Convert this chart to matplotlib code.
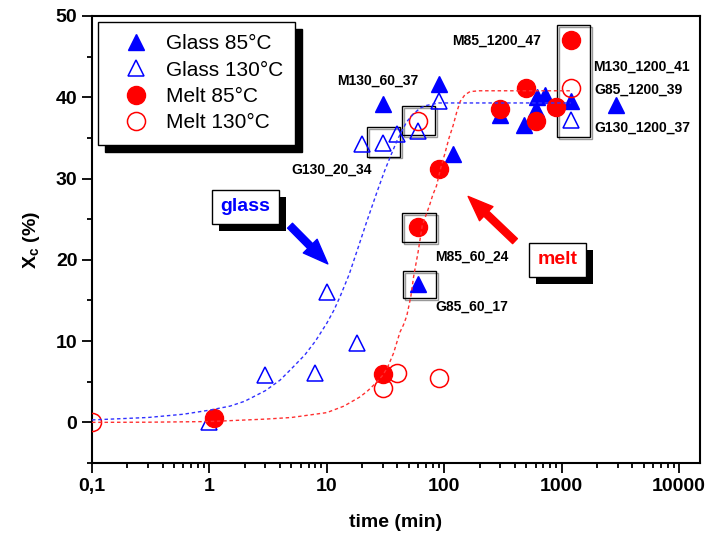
import matplotlib
matplotlib.use("Agg")
import matplotlib.pyplot as plt
from matplotlib.patches import Rectangle
from matplotlib import patheffects
from matplotlib.transforms import ScaledTranslation

plt.rcParams["font.family"] = ["Liberation Sans", "DejaVu Sans"]
plt.rcParams["mathtext.fontset"] = "custom"
plt.rcParams["mathtext.rm"] = "Liberation Sans"
plt.rcParams["mathtext.bf"] = "Liberation Sans:bold"
plt.rcParams["mathtext.it"] = "Liberation Sans:italic"

# DATA (time in min, Xc in %)
glass85_t = [30, 60, 90, 120, 300, 480, 600, 620, 720, 1200, 2900]
glass85_x = [39.2, 17.0, 41.6, 33.0, 37.8, 36.6, 38.6, 40.0, 40.3, 39.6, 39.1]

glass130_t = [1.0, 3, 8, 10, 18, 20, 30, 40, 60, 90, 1200]
glass130_x = [0.0, 5.8, 6.1, 16.1, 9.8, 34.2, 34.4, 35.5, 35.9, 39.5, 37.2]

melt85_t = [1.1, 30, 60, 90, 300, 500, 600, 900, 1200]
melt85_x = [0.5, 6.0, 24.0, 31.2, 38.6, 41.1, 37.1, 38.8, 47.0]

melt130_t = [0.1, 30, 40, 60, 90, 1200]
melt130_x = [0.0, 4.2, 6.1, 37.1, 5.4, 41.1]

# fit curves
fitg_t = [0.1, 0.3, 0.6, 1, 1.5, 2, 3, 4, 5, 6.5, 8, 10, 11.5, 13, 15.5, 18, 22, 27, 31,
          35, 40, 48, 55, 63, 71, 90, 120, 1200]
fitg_x = [0.3, 0.6, 1.0, 1.5, 2.0, 2.6, 3.9, 5.2, 6.6, 8.3, 10.0, 12.2, 13.8, 15.5, 18.2,
          21.0, 24.8, 28.5, 30.9, 32.8, 34.8, 37.0, 38.0, 38.7, 39.0, 39.3, 39.3, 39.3]

fitm_t = [0.1, 0.3, 1, 3, 5, 10, 14, 19, 22, 26, 30, 33, 37, 42, 45, 48, 52, 55, 60, 65,
          70, 75, 80, 86, 93, 101, 110, 119, 128, 137, 150, 166, 200, 250, 1200]
fitm_x = [0.0, 0.02, 0.1, 0.4, 0.6, 1.2, 2.0, 3.1, 3.8, 4.8, 5.8, 6.8, 8.5, 11.1, 12.0,
          13.1, 15.5, 18.0, 21.0, 24.2, 25.5, 26.7, 28.0, 29.1, 31.2, 33.0, 35.0, 36.5,
          38.2, 39.5, 40.3, 40.7, 40.8, 40.8, 40.8]

# sample labels
lab_text = ["M130_60_37", "G130_20_34", "M85_1200_47", "M130_1200_41",
            "G85_1200_39", "G130_1200_37", "M85_60_24", "G85_60_17"]
lab_t = [12.2, 4.95, 116, 1850, 1890, 1890, 84, 84]
lab_x = [42.0, 31.1, 47.0, 43.8, 40.9, 36.3, 20.4, 14.2]

# highlight boxes (t0, t1, x0, x1)
boxes = [(22.0, 42.1, 32.7, 36.3),
         (43.8, 83.6, 35.3, 38.9),
         (43.8, 85.0, 22.2, 25.7),
         (44.5, 85.0, 15.3, 18.6),
         (915, 1746, 35.1, 48.9)]

xticks = [0.1, 1, 10, 100, 1000, 10000]
xticklabels = ["0,1", "1", "10", "100", "1000", "10000"]

fig = plt.figure(figsize=(7.08, 5.36), dpi=100)
ax = fig.add_axes([92 / 708, 1 - 463 / 536, 608 / 708, 447 / 536])

blue = "#0000ff"
red = "#ff0000"

ax.plot(glass85_t, glass85_x, "^", ms=12, color=blue, mec=blue, ls="none", label="Glass 85°C", zorder=3)
ax.plot(glass130_t, glass130_x, "^", ms=12, mfc="none", mec=blue, mew=1.1, ls="none", label="Glass 130°C", zorder=3)
ax.plot(melt85_t, melt85_x, "o", ms=13, color=red, mec=red, ls="none", label="Melt 85°C", zorder=4)
ax.plot(melt130_t, melt130_x, "o", ms=13, mfc="none", mec=red, mew=1.1, ls="none", label="Melt 130°C", zorder=4)

# fits
ax.plot(fitg_t, fitg_x, color="#3030ff", lw=1.0, ls=(0, (2.5, 2)), zorder=5)
ax.plot(fitm_t, fitm_x, color="#ff3030", lw=1.0, ls=(0, (2.5, 2)), zorder=5)

shadow_off = ax.transData + ScaledTranslation(1.2 / 72, -1.2 / 72, fig.dpi_scale_trans)
for t0, t1, y0, y1 in boxes:
    ax.add_patch(Rectangle((t0, y0), t1 - t0, y1 - y0, fill=False, ec="#999999",
                           lw=1.0, transform=shadow_off, zorder=2))
    ax.add_patch(Rectangle((t0, y0), t1 - t0, y1 - y0, fill=False, ec="black",
                           lw=1.0, zorder=2))

for s, t, x in zip(lab_text, lab_t, lab_x):
    ax.text(t, x, s, fontsize=10, fontweight="bold", ha="left", va="center", zorder=6)

# glass / melt boxes with arrows
shadow = [patheffects.SimplePatchShadow(offset=(5, -5), shadow_rgbFace="black", alpha=1),
          patheffects.Normal()]
for word, t, x, c in [("glass", 2.03, 26.5, blue), ("melt", 923, 20.0, red)]:
    txt = ax.text(t, x, word, fontsize=14, fontweight="bold", color=c, ha="center", va="center",
                  bbox=dict(boxstyle="square,pad=0.45", fc="white", ec="black", lw=1.0), zorder=6)
    txt.get_bbox_patch().set_path_effects(shadow)

arrow_style = "simple,head_length=1.8,head_width=1.4,tail_width=0.5"
ax.annotate("", xy=(10.2, 19.5), xytext=(4.86, 24.2),
            arrowprops=dict(arrowstyle=arrow_style, color=blue, mutation_scale=10,
                            shrinkA=0, shrinkB=0), zorder=6)
ax.annotate("", xy=(160, 27.8), xytext=(401, 22.3),
            arrowprops=dict(arrowstyle=arrow_style, color=red, mutation_scale=10,
                            shrinkA=0, shrinkB=0), zorder=6)

ax.set_xscale("log")
ax.set_xlim(0.1, 15100)
ax.set_ylim(-5, 50)
ax.set_xticks(xticks)
ax.set_xticklabels(xticklabels)
ax.set_yticks([0, 10, 20, 30, 40, 50])
ax.set_yticks([-5, 5, 15, 25, 35, 45], minor=True)
ax.tick_params(which="both", direction="out", width=1.3, labelsize=14, top=False, right=False)
ax.tick_params(which="major", length=7)
ax.tick_params(which="minor", length=3.5)
for lbl in ax.get_xticklabels() + ax.get_yticklabels():
    lbl.set_fontweight("bold")
for sp in ax.spines.values():
    sp.set_linewidth(1.5)

ax.set_xlabel("time (min)", fontsize=14, fontweight="bold", labelpad=14)
ax.set_ylabel(r"$\mathbf{X}_\mathbf{c}$ (%)", fontsize=14, fontweight="bold", labelpad=10)

leg = ax.legend(loc="upper left", bbox_to_anchor=(0.0099, 0.9866), borderaxespad=0,
                fontsize=15, frameon=True, fancybox=False, framealpha=1, edgecolor="black",
                shadow={"ox": 5, "oy": -5, "color": "black", "alpha": 1},
                handlelength=2.4, handletextpad=0.25, labelspacing=0.35, borderpad=0.6)
leg.get_frame().set_linewidth(1.0)

fig.savefig("out.png", dpi=100)
